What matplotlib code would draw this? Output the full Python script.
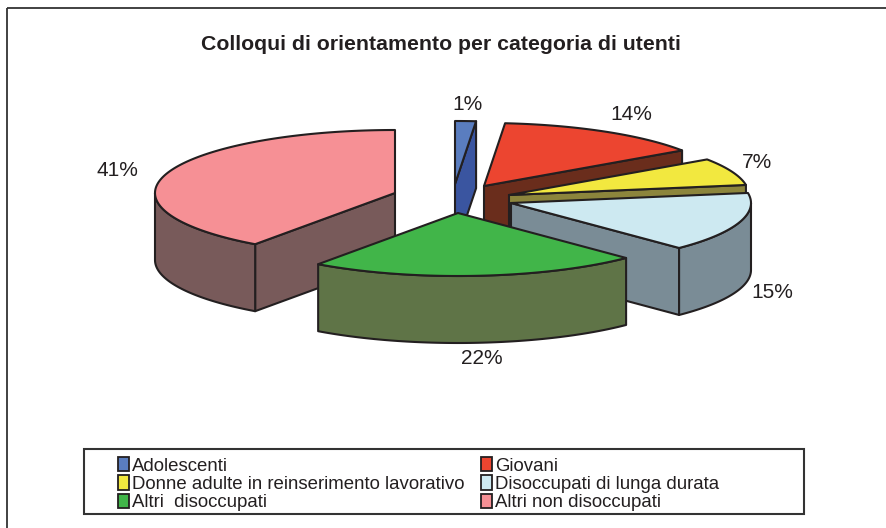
import numpy as np
import matplotlib
matplotlib.use("Agg")
import matplotlib.pyplot as plt
from matplotlib.patches import Polygon, Rectangle, Patch

plt.rcParams['font.family'] = ['Liberation Sans', 'DejaVu Sans']

TITLE = "Colloqui di orientamento per categoria di utenti"
categories = ["Adolescenti", "Giovani", "Donne adulte in reinserimento lavorativo",
              "Disoccupati di lunga durata", "Altri  disoccupati", "Altri non disoccupati"]
# slice sizes estimated from the drawn angles; printed labels as shown on the chart
values = [1.4, 14.05, 7.0, 15.2, 22.25, 40.1]
labels = ["1%", "14%", "7%", "15%", "22%", "41%"]

top_colors = ["#5a7dbf", "#ec4530", "#f2e83f", "#cde9f1", "#41b549", "#f69095"]
side_colors = ["#3a55a0", "#6a2d1c", "#8c853c", "#7a8c96", "#5f7447", "#785a5a"]
apex = [(455, 184), (484, 186), (509, 195), (511, 203), (458, 213), (395, 193)]
label_pos = [(468, 105), (631, 115), (757, 163), (772, 292), (482, 358), (117, 170)]
order = [5, 0, 1, 2, 3, 4]
RX, RY, DEPTH = 240, 63, 67
EDGE = "#231f20"

fig = plt.figure(figsize=(8.87, 5.28), dpi=100)
ax = fig.add_axes([0, 0, 1, 1])
ax.set_xlim(0, 887)
ax.set_ylim(528, 0)
ax.axis("off")

ax.add_patch(Rectangle((7, 8), 900, 540, fill=False, ec="#333333", lw=1.3))
ax.text(441, 45, TITLE, ha="center", va="center", fontsize=15.3, fontweight="bold", color=EDGE)


def rim(cx, cy, deg, dy=0.0):
    t = np.radians(deg)
    return np.column_stack([cx + RX * np.sin(t), cy - RY * np.cos(t) + dy])


edges = np.concatenate([[0], np.cumsum(values)]) / np.sum(values) * 360
kw = dict(ec=EDGE, lw=1.5, joinstyle="round")
for i in order:
    a0, a1 = edges[i], edges[i + 1]
    cx, cy = apex[i]
    c = np.array([[cx, cy]])
    d = np.array([[0, DEPTH]])
    # radial walls that face the viewer
    for ang, visible in ((a0, np.sin(np.radians(a0)) < -1e-6), (a1, np.sin(np.radians(a1)) > 1e-6)):
        if visible:
            r = rim(cx, cy, ang)
            ax.add_patch(Polygon(np.vstack([c, r, r + d, c + d]), fc=side_colors[i], **kw))
    # outer wall (front half only)
    lo, hi = max(a0, 90), min(a1, 270)
    if hi > lo:
        th = np.linspace(lo, hi, 80)
        r = rim(cx, cy, th)
        ax.add_patch(Polygon(np.vstack([r, (r + d)[::-1]]), fc=side_colors[i], **kw))
    # top face
    th = np.linspace(a0, a1, 160)
    ax.add_patch(Polygon(np.vstack([c, rim(cx, cy, th)]), fc=top_colors[i], **kw))

for (x, y), s in zip(label_pos, labels):
    ax.text(x, y, s, ha="center", va="center", fontsize=15, color="#231f20")

ax.add_patch(Rectangle((84, 449), 720, 65, fc="white", ec="#333333", lw=1.5))
idx = [0, 2, 4, 1, 3, 5]
handles = [Patch(fc=top_colors[k], ec=EDGE, lw=1.3, label=categories[k]) for k in idx]
ax.legend(handles=handles, ncol=2, loc="upper left", bbox_to_anchor=(118, 457),
          bbox_transform=ax.transData, frameon=False, fontsize=13.4,
          borderpad=0, borderaxespad=0, labelspacing=0.04, handlelength=0.6,
          handleheight=0.8, handletextpad=0.15, columnspacing=0.88, labelcolor="#231f20")

fig.savefig("out.png", dpi=100)
